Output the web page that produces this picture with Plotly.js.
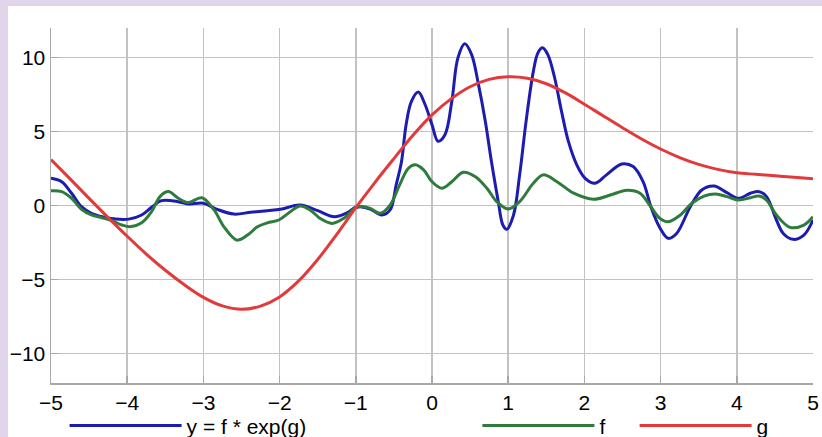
<!DOCTYPE html>
<html>
<head>
<meta charset="utf-8">
<script src="https://cdn.plot.ly/plotly-3.0.1.min.js"></script>
<style>
  html, body { margin: 0; padding: 0; background: #e1d5ec; width: 822px; height: 437px; overflow: hidden; }
  #chart { position: absolute; left: 8px; top: 6px; width: 814px; height: 431px; }
</style>
</head>
<body>
<div id="chart"></div>
<script>
// y = f * exp(g)  (blue)
const yX = [-5.0,-4.86,-4.73,-4.6,-4.47,-4.33,-4.15,-3.98,-3.81,-3.68,-3.55,-3.33,-3.2,-3.0,-2.82,-2.6,-2.38,-2.16,-1.99,-1.73,-1.5,-1.28,-1.13,-1.0,-0.94,-0.81,-0.66,-0.55,-0.47,-0.4,-0.34,-0.27,-0.18,-0.09,0.0,0.08,0.17,0.26,0.34,0.43,0.52,0.61,0.7,0.78,0.87,0.93,0.98,1.07,1.15,1.24,1.33,1.39,1.45,1.52,1.61,1.7,1.79,1.9,2.01,2.14,2.29,2.49,2.64,2.77,2.88,2.99,3.1,3.21,3.39,3.54,3.7,3.87,4.02,4.18,4.29,4.39,4.52,4.61,4.74,4.88,5.0];
const yV = [1.84,1.61,0.83,-0.08,-0.53,-0.76,-0.92,-0.92,-0.64,-0.12,0.33,0.26,0.1,0.15,-0.26,-0.58,-0.46,-0.35,-0.26,0.03,-0.35,-0.76,-0.53,-0.12,-0.08,-0.24,-0.64,-0.3,1.39,2.97,5.46,7.04,7.67,6.81,5.46,4.34,4.78,7.04,9.98,10.93,10.2,8.17,5.68,2.97,0.26,-1.32,-1.61,-0.64,2.07,5.91,9.07,10.32,10.66,10.2,8.62,6.36,4.33,2.75,1.84,1.5,2.07,2.81,2.63,1.61,-0.2,-1.5,-2.22,-1.89,-0.08,1.05,1.32,0.87,0.49,0.83,0.94,0.6,-0.98,-1.89,-2.29,-2.0,-0.98];

// f (green)
const fX = [-5.0,-4.86,-4.73,-4.6,-4.47,-4.33,-4.2,-4.07,-3.96,-3.81,-3.68,-3.57,-3.46,-3.33,-3.2,-3.02,-2.86,-2.73,-2.56,-2.42,-2.29,-2.16,-2.01,-1.86,-1.73,-1.6,-1.47,-1.31,-1.16,-1.0,-0.92,-0.81,-0.68,-0.55,-0.42,-0.31,-0.22,-0.11,0.0,0.13,0.26,0.41,0.57,0.72,0.85,1.0,1.15,1.33,1.46,1.64,1.86,2.12,2.34,2.56,2.73,2.86,2.99,3.1,3.26,3.41,3.57,3.72,3.87,4.02,4.18,4.29,4.39,4.52,4.7,4.88,5.0];
const fV = [1.0,0.94,0.49,-0.26,-0.64,-0.83,-1.03,-1.32,-1.44,-1.17,-0.42,0.6,0.94,0.49,0.2,0.52,-0.3,-1.44,-2.34,-2.0,-1.44,-1.17,-0.98,-0.42,-0.03,-0.3,-0.87,-1.21,-0.87,-0.15,-0.07,-0.19,-0.53,0.03,1.45,2.52,2.75,2.41,1.61,1.17,1.61,2.25,1.95,1.17,0.26,-0.24,0.26,1.5,2.07,1.61,0.83,0.42,0.71,1.03,0.83,0.0,-0.87,-1.1,-0.64,0.15,0.64,0.78,0.6,0.37,0.53,0.64,0.37,-0.64,-1.48,-1.32,-0.76];

// g (red)
const gX = [-5,-4.75,-4.5,-4.25,-4,-3.75,-3.5,-3.25,-3,-2.75,-2.5,-2.25,-2,-1.75,-1.5,-1.25,-1,-0.75,-0.5,-0.25,0,0.25,0.5,0.75,1,1.25,1.5,1.75,2,2.25,2.5,2.75,3,3.25,3.5,3.75,4,4.25,4.5,4.75,5];
const gV = [3.1,1.8,0.48,-0.82,-2.08,-3.28,-4.38,-5.36,-6.21,-6.79,-7.02,-6.8,-6.18,-5.1,-3.65,-1.95,-0.15,1.55,3.17,4.75,6.13,7.21,8.03,8.53,8.7,8.6,8.23,7.61,6.85,6.05,5.26,4.5,3.82,3.24,2.78,2.44,2.21,2.11,2.01,1.91,1.8];

const names = ['y = f * exp(g)', 'f', 'g'];
const colors = ['#1c1cb0', '#2e7b3c', '#e23a3a'];

const FONT = 'Liberation Sans, Arial, sans-serif';

const traces = [
  {x: yX, y: yV, name: names[0], legend: 'legend', line: {color: colors[0]}},
  {x: fX, y: fV, name: names[1], legend: 'legend2', line: {color: colors[1]}},
  {x: gX, y: gV, name: names[2], legend: 'legend3', line: {color: colors[2]}}
].map(t => Object.assign(t, {type: 'scatter', mode: 'lines', line: Object.assign(t.line, {width: 3, shape: 'spline', smoothing: 1}), hoverinfo: 'skip'}));

const axisCommon = {
  showgrid: true, gridcolor: '#c2c2c2', gridwidth: 1.5,
  showline: true, linecolor: '#a8a8a8', linewidth: 1.5,
  ticks: 'inside', ticklen: 7, tickcolor: '#a8a8a8', tickwidth: 1.5,
  zeroline: false,
  tickfont: {family: FONT, size: 21, color: '#000'}
};

const legendCommon = {
  orientation: 'h', yanchor: 'middle', y: -0.121, xanchor: 'left',
  bgcolor: 'rgba(0,0,0,0)', itemwidth: 112,
  font: {family: FONT, size: 21, color: '#000'}
};

const layout = {
  width: 814, height: 431,
  margin: {l: 43, r: 9, t: 22, b: 54, autoexpand: false},
  paper_bgcolor: '#ffffff', plot_bgcolor: '#ffffff',
  showlegend: true,
  xaxis: Object.assign({}, axisCommon, {range: [-5, 5], dtick: 1, tick0: 0, ticklabelstandoff: 0}),
  yaxis: Object.assign({}, axisCommon, {range: [-12, 12], tickvals: [-10, -5, 0, 5, 10]}),
  legend: Object.assign({}, legendCommon, {x: 0.0178}),
  legend2: Object.assign({}, legendCommon, {x: 0.5596}),
  legend3: Object.assign({}, legendCommon, {x: 0.7659})
};

Plotly.newPlot('chart', traces, layout, {staticPlot: true, displayModeBar: false});
</script>
</body>
</html>
